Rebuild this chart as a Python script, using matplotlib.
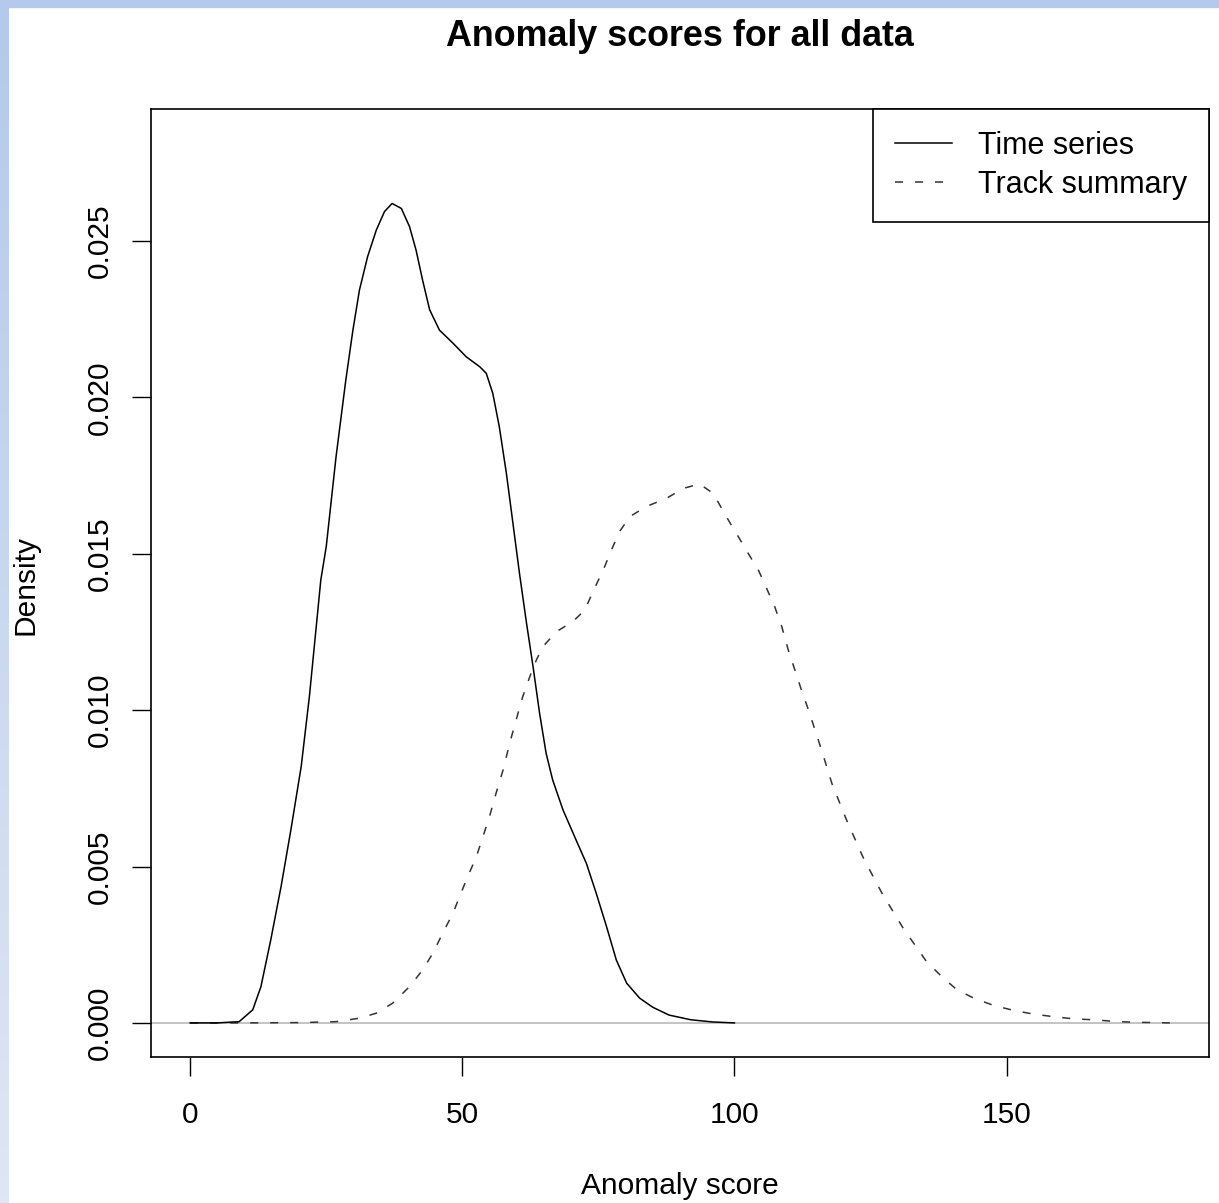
import numpy as np
import matplotlib
matplotlib.use("Agg")
import matplotlib.pyplot as plt

plt.rcParams['font.family'] = ['Liberation Sans', 'DejaVu Sans']
plt.rcParams['lines.scale_dashes'] = False

# density curves
ts_x = [0, 5, 9.0, 11.5, 13.0, 14.8, 16.7, 18.5, 20.4, 21.9, 23.1, 24.0, 25.0, 26.8,
        28.6, 29.9, 31.1, 32.6, 34.2, 35.7, 37.1, 38.8, 40.3, 41.5, 42.7, 44.0, 45.8,
        48.3, 50.7, 53.2, 54.4, 55.6, 56.8, 58.1, 59.3, 60.5, 61.8, 63.0, 64.2, 65.4,
        66.6, 68.5, 70.9, 72.8, 74.6, 76.5, 78.3, 80.2, 82.6, 85, 88, 92, 96, 100]
ts_y = [0, 0, 0.00004, 0.00042, 0.00116, 0.00265, 0.00436, 0.00617, 0.0082, 0.01043,
        0.01256, 0.01416, 0.01523, 0.0181, 0.02056, 0.02215, 0.02343, 0.0245, 0.02535,
        0.02594, 0.0262, 0.02604, 0.02546, 0.02471, 0.02375, 0.0228, 0.02215, 0.02173,
        0.0213, 0.02098, 0.02077, 0.02013, 0.01906, 0.01757, 0.01598, 0.01438, 0.01278,
        0.01139, 0.0099, 0.00862, 0.00777, 0.00681, 0.00585, 0.0051, 0.00415, 0.00308,
        0.00201, 0.00127, 0.00079, 0.0005, 0.00025, 0.0001, 0.00003, 0]

tr_x = [0, 10, 20, 26.8, 31.1, 34.2, 37.2, 40.3, 42.7, 44.6, 46.4, 48.3, 49.5, 51.0,
        52.6, 53.8, 55.0, 56.2, 57.5, 58.7, 59.9, 61.1, 62.4, 63.6, 64.8, 67.3, 70.3,
        72.5, 74.3, 75.9, 77.4, 78.9, 80.8, 83.8, 87.5, 90.6, 93.6, 96.1, 98.5, 100.7,
        102.5, 104.4, 105.9, 107.4, 108.7, 109.9, 111.1, 112.3, 113.6, 114.8, 116.0,
        117.9, 120.6, 123.7, 127.1, 131.0, 135.3, 138.4, 140.9, 144.0, 147.6, 151.3,
        155.0, 158.6, 162.3, 166.0, 169.7, 173.4, 177.6, 180]
tr_y = [0, 0, 0.00001, 0.00004, 0.00015, 0.00031, 0.00063, 0.00116, 0.00169, 0.00223,
        0.00287, 0.00351, 0.00404, 0.00468, 0.00532, 0.00596, 0.0066, 0.00734, 0.00809,
        0.00894, 0.00969, 0.01043, 0.01107, 0.0116, 0.01203, 0.01251, 0.01283, 0.0132,
        0.0139, 0.01448, 0.01512, 0.01571, 0.01619, 0.01651, 0.01677, 0.01709, 0.01723,
        0.01693, 0.01619, 0.01555, 0.01502, 0.01448, 0.0139, 0.01331, 0.01267, 0.01192,
        0.01129, 0.01065, 0.01001, 0.00937, 0.00873, 0.00766, 0.00649, 0.00527, 0.00415,
        0.00303, 0.00196, 0.00143, 0.00106, 0.00079, 0.00056, 0.0004, 0.00028, 0.0002,
        0.00013, 0.0001, 0.00005, 0.00002, 0.00001, 0]

x_ticks = [0, 50, 100, 150]
y_ticks = [0.000, 0.005, 0.010, 0.015, 0.020, 0.025]
y_labels = ["0.000", "0.005", "0.010", "0.015", "0.020", "0.025"]
legend_labels = ["Time series", "Track summary"]

W, H = 1219, 1203
FS = 21.5

fig = plt.figure(figsize=(W / 100, H / 100), dpi=100)

# light blue frame on the left and top
band = fig.add_axes([0, 0, 9 / W, 1])
grad = np.linspace(0, 1, 256).reshape(-1, 1)
top_c = np.array([180, 201, 235]) / 255
bot_c = np.array([223, 230, 245]) / 255
img = top_c[None, None, :] * (1 - grad[:, :, None]) + bot_c[None, None, :] * grad[:, :, None]
band.imshow(img, aspect='auto', extent=[0, 1, 0, 1])
band.axis('off')
fig.patches.append(plt.Rectangle((0, 1 - 7 / H), 1, 7 / H, transform=fig.transFigure,
                                 color=top_c, zorder=0))

ax = fig.add_axes([151 / W, 1 - 1057 / H, (1209 - 151) / W, (1057 - 109) / H])
ax.axhline(0, color='#bebebe', lw=1.3, zorder=1)
ax.plot(ts_x, ts_y, color='black', lw=1.1, label=legend_labels[0], zorder=3)
ax.plot(tr_x, tr_y, color='#333333', lw=1.1, dashes=(5.8, 8.6),
        label=legend_labels[1], zorder=2)

ax.set_xlim(-7.2, 187.2)
ax.set_ylim(-0.00109, 0.02922)
ax.set_xticks(x_ticks)
ax.set_xticklabels([str(v) for v in x_ticks])
ax.set_yticks(y_ticks)
ax.set_yticklabels(y_labels, rotation=90, va='center')
ax.tick_params(direction='out', length=13.5, width=1.0, labelsize=FS, colors='black')
ax.tick_params(axis='x', pad=18)
ax.tick_params(axis='y', pad=13)
for s in ax.spines.values():
    s.set_linewidth(1.2)

fig.text(680 / W, 1 - 36 / H, "Anomaly scores for all data", ha='center', va='center',
         fontsize=25.8, fontweight='bold')
fig.text(680 / W, 1 - 1186 / H, "Anomaly score", ha='center', va='center', fontsize=FS)
fig.text(25 / W, 1 - 585 / H, "Density", ha='center', va='center', rotation=90, fontsize=FS)

leg = ax.legend(loc='upper right', fontsize=22, frameon=True, fancybox=False,
                borderaxespad=0, edgecolor='black', framealpha=1, handlelength=1.85,
                handletextpad=0.85, borderpad=0.72, labelspacing=0.3)
leg.get_frame().set_linewidth(1.2)

fig.savefig("out.png", dpi=100)
